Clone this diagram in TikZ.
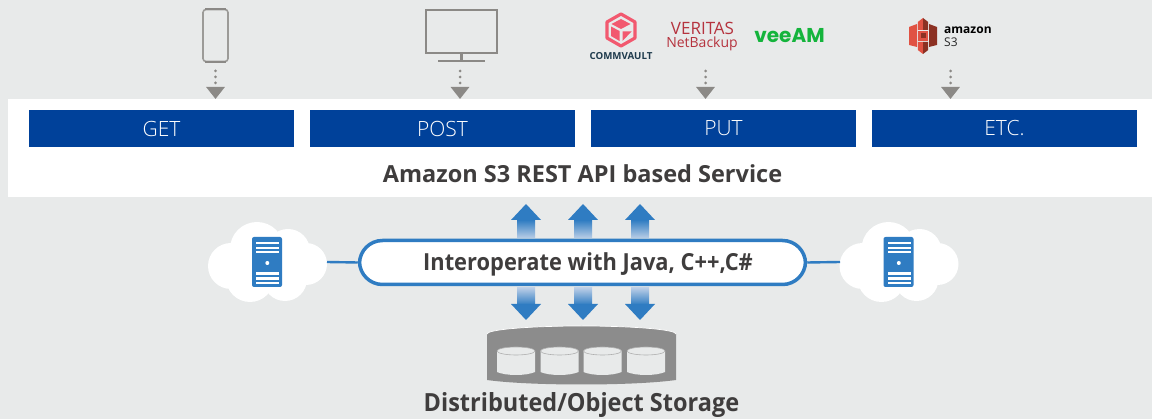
\documentclass[tikz,border=0pt]{standalone}
\usepackage{fontspec}
\setmainfont{Open Sans}
\newfontfamily\thinfont{Open Sans Light}
\newfontfamily\roundfont{Poppins}
\usetikzlibrary{arrows.meta,calc}
\definecolor{bgGray}{HTML}{E8EAEA}
\definecolor{apiBlue}{HTML}{00419A}
\definecolor{linkBlue}{HTML}{2F7CC2}
\definecolor{fadeBlue}{HTML}{B9CDE6}
\definecolor{iconGray}{HTML}{8B8986}
\definecolor{storeGray}{HTML}{8C8C8C}
\definecolor{inkGray}{HTML}{3F3D3D}
\definecolor{cvPink}{HTML}{F2596F}
\definecolor{cvNavy}{HTML}{1F3B4D}
\definecolor{vtRed}{HTML}{B5333E}
\definecolor{vmGreen}{HTML}{14B43C}
\definecolor{awsRed}{HTML}{E05243}
\definecolor{awsDark}{HTML}{8C3123}
\tikzset{
 apibox/.style={fill=apiBlue,text=white,minimum width=265pt,minimum height=37pt,inner sep=0pt,font=\thinfont\fontsize{21}{24}\selectfont},
 headline/.style={text=inkGray,inner sep=0pt,font=\fontsize{23.5}{28}\selectfont\bfseries},
 devline/.style={draw=iconGray!85,line width=1.6pt},
 dotflow/.style={iconGray,line width=3pt,line cap=round,dash pattern=on 0pt off 6pt,-{Triangle[width=18pt,length=12pt]}},
 linkline/.style={linkBlue,line width=2.4pt},
 pill/.style={draw=linkBlue,fill=white,line width=3.5pt,rounded corners=23pt,minimum width=446pt,minimum height=44pt,inner sep=0pt},
 disk/.style={fill=bgGray,draw=storeGray!70,line width=.6pt},
}
\begin{document}
\begin{tikzpicture}[x=1pt,y=-1pt]
\useasboundingbox (0,0) rectangle (1152,419);
\fill[bgGray] (0,0) rectangle (1152,419);
\fill[white] (8,99) rectangle (1152,197);

%: \CloudServer{<xshift>}{<name>}
\newcommand{\CloudServer}[2]{%
\begin{scope}[shift={(#1,0)}]
    \fill[white] (231,266) circle (23) (257,249) circle (27) (288,251) circle (22)
     (306,264) circle (21) (250,278) circle (24) (285,279) circle (22);
    \fill[white] (235,250) rectangle (300,285);
    \node[fill=linkBlue,rounded corners=2pt,minimum width=30pt,minimum height=50pt,inner sep=0pt] (#2) at (267,262) {};
    \foreach \ybar in {243.3,248,252,273.5,278.5,283}
      \fill[white] (256,\ybar-1.2) rectangle (279,\ybar+1.2);
    \fill[white] (267.3,263) circle (2);
\end{scope}}

%: \FatArrow{<from>}{<tip>}{<sign>}
\newcommand{\FatArrow}[3]{%
    \ifnum#3>0
      \shade[top color=linkBlue,bottom color=fadeBlue] ($(#1)+(-9,0)$) rectangle ($(#2)+(9,16)$);
    \else
      \shade[top color=fadeBlue,bottom color=linkBlue] ($(#1)+(-9,0)$) rectangle ($(#2)+(9,-15)$);
    \fi
    \fill[linkBlue] (#2) -- ($(#2)+(15,#3*16)$) -- ($(#2)+(-15,#3*16)$) -- cycle;}

% devices
\node[devline,rounded corners=3pt,minimum width=25pt,minimum height=52pt,inner sep=0pt] (phone) at (215.5,35.5) {};
\draw[iconGray,line width=1.8pt] ([xshift=3pt]phone.north west) -- ([xshift=-3pt]phone.north east);
\draw[iconGray,line width=1.8pt] ([xshift=3pt]phone.south west) -- ([xshift=-3pt]phone.south east);
\node[draw=iconGray,line width=2.2pt,minimum width=71pt,minimum height=43pt,inner sep=0pt] (monitor) at (461.5,31.5) {};
\draw[iconGray,line width=2.4pt] (monitor.south) -- ++(0,6);
\draw[iconGray,line width=1.4pt] (438,61) -- (485,61);

% logos
\draw[cvPink,line width=3.2pt,line join=round] (621,14) -- (635,22) -- (635,38) -- (621,46) -- (607,38) -- (607,22) -- cycle;
\fill[cvPink] (621,19) -- (630.5,24) -- (621,29) -- (611.5,24) -- cycle;
\fill[cvPink] (611,26.5) -- (619.5,31) -- (619.5,41) -- (611,36) -- cycle;
\fill[cvPink] (622.5,31.5) -- (631.5,31.5) -- (622.5,41) -- cycle;
\node[text=cvNavy,inner sep=0pt,font=\fontsize{9.7}{11}\selectfont\bfseries] (cvtext) at (621,56) {COMMVAULT};
\node[text=vtRed,inner sep=0pt,font=\fontsize{17}{20}\selectfont] (veritas) at (702.5,28) {VERITAS};
\node[text=vtRed,inner sep=0pt,font=\fontsize{14}{16}\selectfont] (netbackup) at (702,43.5) {NetBackup};
\node[text=vmGreen,inner sep=0pt,font=\roundfont\fontsize{20}{24}\selectfont\bfseries] (veeam) at (789.5,35.5) {veeAM};
\fill[awsRed] (909,27) -- (917,24) -- (917,47) -- (909,45) -- cycle;
\fill[awsDark] (929,24) -- (937,27) -- (937,45) -- (929,47) -- cycle;
\fill[awsRed] (917.8,22) -- (923,18) -- (923,30) -- (917.8,30) -- cycle;
\fill[awsDark] (923,18) -- (928.2,22) -- (928.2,30) -- (923,30) -- cycle;
\fill[awsRed] (917.8,42) -- (923,42) -- (923,54) -- (917.8,50) -- cycle;
\fill[awsDark] (923,42) -- (928.2,42) -- (928.2,50) -- (923,54) -- cycle;
\fill[awsRed] (917.8,31) rectangle (928.2,41);
\fill[awsDark] (921,33.5) rectangle (925.5,38.5);
\node[text=black,inner sep=0pt,anchor=west,font=\fontsize{12}{14}\selectfont\bfseries] (amazon) at (944,30.5) {amazon};
\node[text=black!85,inner sep=0pt,anchor=west,font=\fontsize{12}{14}\selectfont] (sthree) at (944,42.5) {S3};

% request boxes
\foreach \xpos/\txt/\tag in {161.5/GET/get,442.5/POST/post,723.5/PUT/put,1004.5/ETC./etc}
  \node[apibox] (\tag) at (\xpos,128.5) {\txt};
\foreach \xpos/\tag in {215.5/get,460/post,705.5/put,950.5/etc}{
  \coordinate (\tag from) at (\xpos,71);
  \coordinate (\tag to) at (\xpos,99);
  \draw[dotflow] (\tag from) -- (\tag to);
}
\node[headline] (service) at (582.5,173.5) {Amazon S3 REST API based Service};

% middle row
\node[pill] (interop) at (582.5,262.5) {};
\node[headline,xscale=.93] (interoptext) at (588,264) {Interoperate with Java, C++,C\#};
\CloudServer{0}{serverL}
\CloudServer{631.5}{serverR}
\coordinate (cloudL) at (327,262);
\coordinate (cloudR) at (840,262);
\draw[linkline] (cloudL) -- (interop.west);
\draw[linkline] (interop.east) -- (cloudR);
\foreach \xpos/\tag in {526/a,583/b,640/c}{
  \coordinate (up\tag) at (\xpos,238);
  \coordinate (uptip\tag) at (\xpos,204);
  \coordinate (dn\tag) at (\xpos,288);
  \coordinate (dntip\tag) at (\xpos,320);
  \FatArrow{up\tag}{uptip\tag}{1}
  \FatArrow{dn\tag}{dntip\tag}{-1}
}

% storage
\fill[storeGray] (487,334) -- (487,380) .. controls (530,386) and (633,386) .. (676,380) -- (676,334) -- cycle;
\fill[storeGray] (581.5,334) ellipse [x radius=94.5,y radius=8];
\draw[white,line width=.7pt] (487,334) arc [start angle=180,end angle=360,x radius=94.5,y radius=8];
\foreach \xpos in {516,559.5,602.5,646}{
  \fill[bgGray] (\xpos-19,351) -- (\xpos-19,372) .. controls (\xpos-10,376) and (\xpos+10,376) .. (\xpos+19,372) -- (\xpos+19,351) -- cycle;
  \draw[disk] (\xpos,351) ellipse [x radius=19,y radius=4];
}
\node[headline,font=\fontsize{25}{30}\selectfont\bfseries,xscale=.94] (storage) at (581.5,405) {Distributed/Object Storage};
\end{tikzpicture}
\end{document}
